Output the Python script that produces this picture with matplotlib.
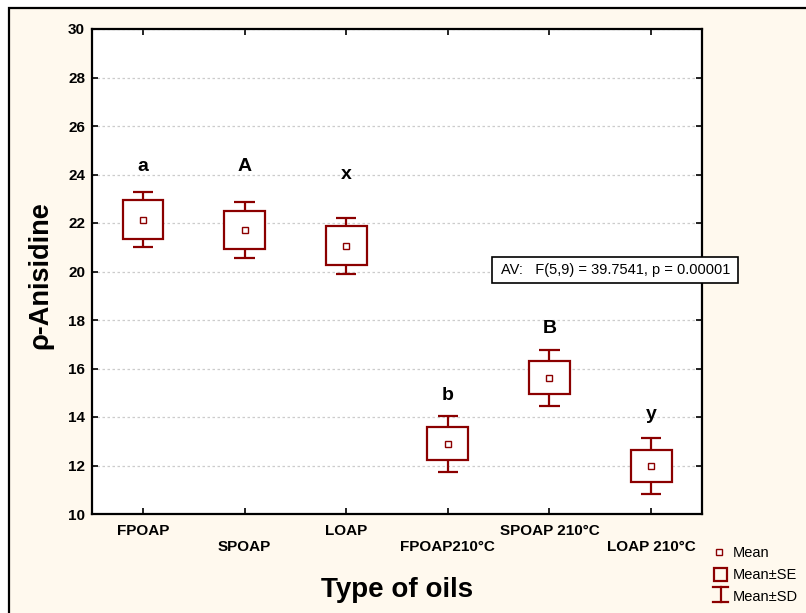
import matplotlib
matplotlib.use('Agg')
import matplotlib.pyplot as plt
from matplotlib.patches import Rectangle
from matplotlib.lines import Line2D

categories = ['FPOAP', 'SPOAP', 'LOAP', 'FPOAP210°C', 'SPOAP 210°C', 'LOAP 210°C']
means = [22.14, 21.71, 21.06, 12.90, 15.62, 11.99]
se = [0.80, 0.80, 0.80, 0.67, 0.67, 0.66]
sd = [1.15, 1.15, 1.15, 1.15, 1.15, 1.15]
letters = ['a', 'A', 'x', 'b', 'B', 'y']
letter_y = [24.31, 24.35, 23.98, 14.90, 17.67, 14.10]
y_ticks = [10, 12, 14, 16, 18, 20, 22, 24, 26, 28, 30]
stat_text = 'AV:   F(5,9) = 39.7541, p = 0.00001'
legend_labels = ['Mean', 'Mean±SE', 'Mean±SD']

plt.rcParams['font.family'] = ['Liberation Sans', 'DejaVu Sans']

W, H = 806, 613
RED = '#8B0000'
fig = plt.figure(figsize=(W / 100, H / 100), dpi=100)
fig.patch.set_facecolor('white')


def fx(x):
    return x / W


def fy(y):
    return 1 - y / H


bg = Rectangle((fx(8.5), -0.1), 1.2, fy(7.5) + 0.1, transform=fig.transFigure,
               facecolor='#FFF9EE', edgecolor='black', linewidth=1.6, zorder=-10)
fig.add_artist(bg)

ax = fig.add_axes([fx(92), fy(514), (702 - 92) / W, (514 - 29) / H])
ax.set_facecolor('white')
ax.set_xlim(0.5, 6.5)
ax.set_ylim(10, 30)
ax.set_yticks(y_ticks)
ax.set_yticklabels([str(t) for t in y_ticks], fontsize=11, fontweight='bold')
xs = list(range(1, len(categories) + 1))
ax.set_xticks(xs)
ax.set_xticklabels([c if i % 2 == 0 else '\n' + c for i, c in enumerate(categories)],
                   fontsize=11, fontweight='bold', linespacing=1.25)
ax.tick_params(direction='in', length=4, width=1.2, top=True, right=True)
ax.tick_params(axis='y', pad=5)
ax.tick_params(axis='x', pad=7)
for s in ax.spines.values():
    s.set_linewidth(1.6)
ax.yaxis.grid(True, color='#cccccc', linestyle=(0, (2, 2)), linewidth=0.9)
ax.set_axisbelow(True)

for x, m, e, d, lt, ly in zip(xs, means, se, sd, letters, letter_y):
    ax.add_patch(Rectangle((x - 0.2, m - e), 0.4, 2 * e, facecolor='white',
                           edgecolor=RED, linewidth=1.6, zorder=3))
    ax.vlines(x, m + e, m + d, color=RED, linewidth=1.6, zorder=3)
    ax.vlines(x, m - d, m - e, color=RED, linewidth=1.6, zorder=3)
    ax.hlines([m + d, m - d], x - 0.1, x + 0.1, color=RED, linewidth=1.6, zorder=3)
    ax.plot(x, m, 's', ms=4.5, mfc='white', mec=RED, mew=1.0, zorder=4)
    ax.text(x, ly, lt, ha='center', va='center', fontsize=14, fontweight='bold')

# statistics box
x0, x1 = (492 - 92) / 610, (738 - 92) / 610
y0, y1 = (514 - 283) / 485, (514 - 257) / 485
ax.add_patch(Rectangle((x0, y0), x1 - x0, y1 - y0, transform=ax.transAxes,
                       facecolor='white', edgecolor='black', linewidth=1.2,
                       clip_on=False, zorder=6))
ax.text((501 - 92) / 610, (y0 + y1) / 2, stat_text, transform=ax.transAxes,
        ha='left', va='center', fontsize=10.5, zorder=7)

# axis titles
fig.text(fx(40), fy(275), 'ρ-Anisidine', rotation=90, ha='center', va='center',
         fontsize=19.5, fontweight='bold')
fig.text(fx(397), fy(590), 'Type of oils', ha='center', va='center',
         fontsize=20, fontweight='bold')

# legend
fig.add_artist(Line2D([fx(719)], [fy(552)], marker='s', ms=4.5, mfc='white', mec=RED,
                      mew=1.0, linestyle='none', transform=fig.transFigure))
fig.add_artist(Rectangle((fx(714), fy(581)), 13 / W, 13 / H, transform=fig.transFigure,
                         fill=False, edgecolor=RED, linewidth=1.6))
fig.add_artist(Line2D([fx(720.5), fx(720.5)], [fy(587), fy(602)], color=RED, lw=1.6,
                      transform=fig.transFigure))
for yy in (587, 602):
    fig.add_artist(Line2D([fx(713), fx(728)], [fy(yy), fy(yy)], color=RED, lw=1.6,
                          transform=fig.transFigure))
for lab, yy in zip(legend_labels, (553, 575, 597)):
    fig.text(fx(733), fy(yy), lab, ha='left', va='center', fontsize=10.5)

fig.savefig('out.png', dpi=100, facecolor=fig.get_facecolor())
